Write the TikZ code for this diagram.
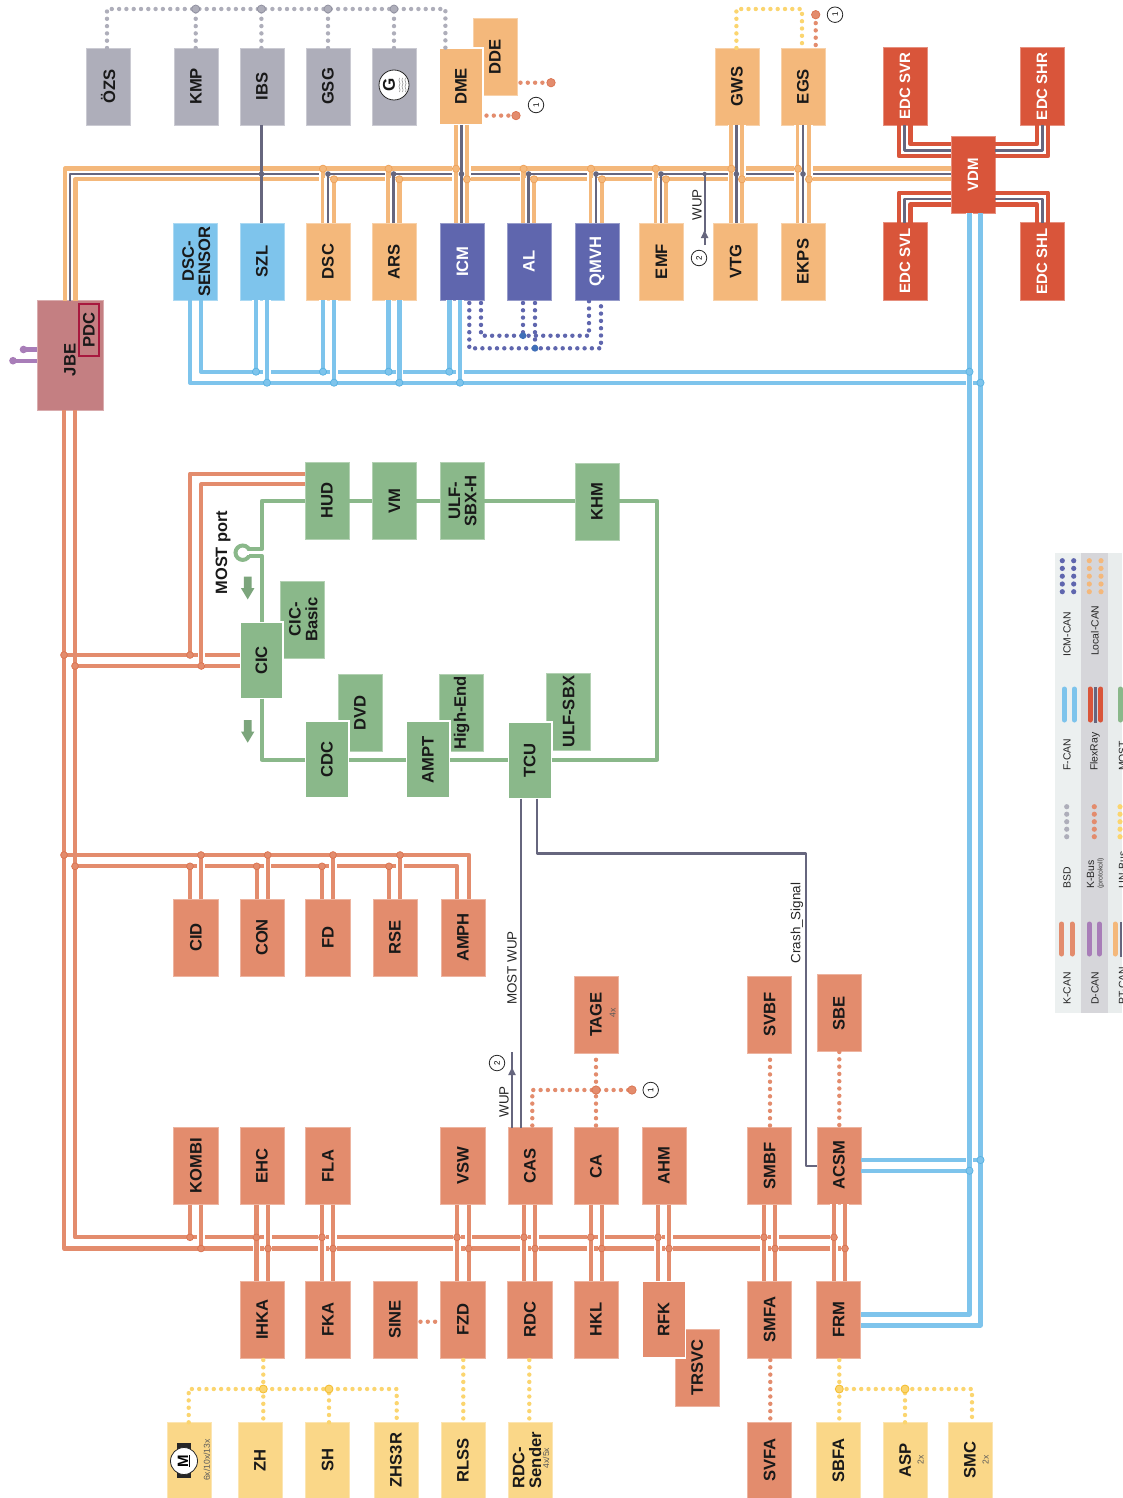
\documentclass[tikz,border=0pt]{standalone}
\usepackage{fontspec}
\usepackage{graphicx}
\setmainfont{Liberation Sans}
\usetikzlibrary{arrows.meta}
\definecolor{cK}{HTML}{E38C6D}
\definecolor{cKd}{HTML}{DB7350}
\definecolor{cP}{HTML}{F4B87B}
\definecolor{cPd}{HTML}{EFA25A}
\definecolor{cG}{HTML}{66667E}
\definecolor{cB}{HTML}{7EC4EC}
\definecolor{cBd}{HTML}{58B2E2}
\definecolor{cI}{HTML}{5F66AE}
\definecolor{cId}{HTML}{3F6FB8}
\definecolor{cR}{HTML}{D9553A}
\definecolor{cM}{HTML}{8AB88A}
\definecolor{cY}{HTML}{FAD788}
\definecolor{cYl}{HTML}{FBD56F}
\definecolor{cYd}{HTML}{F4BC2C}
\definecolor{cS}{HTML}{AEAEBA}
\definecolor{cSd}{HTML}{8E8E9E}
\definecolor{cJ}{HTML}{C47F82}
\definecolor{cD}{HTML}{A87DB8}
\definecolor{cPDC}{HTML}{A8183E}
\tikzset{
  casing/.style={draw=white,line width=7.4},
  casingend/.style={draw=white,line width=7.4,shorten >=3.6},
  Pline/.style={draw=cP,line width=4.4},
  Gline/.style={draw=cG,line width=2.6},
  Kline/.style={draw=cK,line width=4.2,line join=round},
  Bline/.style={draw=cB,line width=4.4,line join=round},
  Rline/.style={draw=cR,line width=4.2},
  Mline/.style={draw=cM,line width=4},
  wire/.style={draw=cG,line width=2.2},
  Pdot/.style={fill=cP,draw=cPd,line width=.7,radius=3.6},
  Gdot/.style={fill=cG,radius=2.8},
  Kdot/.style={fill=cK,draw=cKd,line width=.7,radius=3.4},
  Bdot/.style={fill=cB,draw=cBd,line width=.7,radius=3.6},
  Idot/.style={fill=cId,radius=3.4},
  Sdot/.style={fill=cS,draw=cSd,line width=.7,radius=4},
  Ydot/.style={fill=cYl,draw=cYd,line width=.8,radius=4},
  Kdotb/.style={fill=cK,draw=cKd,line width=.7,radius=4.2},
  dots/.style={line width=4.4,dash pattern=on 0pt off 7.3pt,line cap=round},
  Idots/.style={dots,draw=cI},
  Sdots/.style={dots,draw=cS},
  Kdots/.style={dots,draw=cK},
  Ydots/.style={dots,draw=cYl},
  numc/.style={circle,draw=black!85,fill=white,line width=.8,minimum size=15.5,inner sep=0,font=\fontsize{8}{8}\selectfont},
  lab/.style={rotate=90,inner sep=0,font=\fontsize{13.4}{14}\selectfont,text=black!85},
  small/.style={rotate=90,inner sep=0,font=\fontsize{8.6}{9}\selectfont,text=black!65},
  leg/.style={rotate=90,anchor=west,inner sep=0,font=\fontsize{10.4}{11}\selectfont,text=black!85},
  legstub/.style={line width=5,line cap=round},
  wuptip/.style={wire,-{Stealth[length=8,width=7,inset=0]}},
}
\newcommand\bx[8][black!90]{\node[draw=#7!65!white,fill=#7,text=#1,inner sep=0,outer sep=0,line width=.8,
  minimum width={#5-#3},minimum height={#6-#4},font=\bfseries\fontsize{16.6}{15.5}\selectfont]
  (#2) at ({(#3+#5)/2},{(#4+#6)/2}) {\rotatebox{90}{#8}};}
\newcommand\twol[2]{\raisebox{-7.15pt}[10pt][10pt]{\begin{tabular}{@{}c@{}}#1\\#2\end{tabular}}}
\newcommand\outl[1]{\draw[white,line width=1.6] (#1.south west) rectangle (#1.north east);}
\newcommand\midtxt[1]{\fontsize{15}{15}\selectfont #1}
\newcommand\tapline[4]{\draw[casingend] (#2 -| #3,0) -- (#3,0 |- #4); \draw[#1line] (#2 -| #3,0) -- (#3,0 |- #4);}
\newcommand\tapdot[4]{\path[#1dot] (#3,0 |- #4) circle;}
\newcommand\thruline[5]{\draw[casing] (#2 -| #4,0) -- (#3 -| #4,0); \draw[#1line] (#2 -| #4,0) -- (#3 -| #4,0);}
\newcommand\thrudot[5]{\path[#1dot] (#4,0 |- #5) circle;}
\newcommand\tap{}
\newcommand\thru{}
\newcommand\cased[2]{\draw[casing] #2; \draw[#1] #2;}
\newcommand\toptaps{%
  \tap{P}{DSC.north}{323}{ptA}\tap{G}{DSC.north}{328}{ptG}\tap{P}{DSC.north}{334}{ptB}
  \tap{P}{ARS.north}{388.6}{ptA}\tap{G}{ARS.north}{393.6}{ptG}\tap{P}{ARS.north}{399.3}{ptB}
  \thru{P}{DME.south}{ICM.north}{456}{ptA}\thru{G}{DME.south}{ICM.north}{461.5}{ptG}\thru{P}{DME.south}{ICM.north}{467}{ptB}
  \tap{P}{AL.north}{523.6}{ptA}\tap{G}{AL.north}{528.6}{ptG}\tap{P}{AL.north}{534}{ptB}
  \tap{P}{QMVH.north}{591}{ptA}\tap{G}{QMVH.north}{596}{ptG}\tap{P}{QMVH.north}{602}{ptB}
  \tap{P}{EMF.north}{655.7}{ptA}\tap{G}{EMF.north}{661}{ptG}\tap{P}{EMF.north}{666}{ptB}
  \thru{P}{GWS.south}{VTG.north}{731.4}{ptA}\thru{G}{GWS.south}{VTG.north}{736.4}{ptG}\thru{P}{GWS.south}{VTG.north}{742}{ptB}
  \thru{P}{EGS.south}{EKPS.north}{798}{ptA}\thru{G}{EGS.south}{EKPS.north}{803}{ptG}\thru{P}{EGS.south}{EKPS.north}{809}{ptB}
}
\newcommand\bluetaps{%
  \tap{B}{SZL.south}{256}{fa}\tap{B}{SZL.south}{267}{fb}
  \tap{B}{DSC.south}{323}{fa}\tap{B}{DSC.south}{334}{fb}
  \tap{B}{ARS.south}{388.6}{fa}\tap{B}{ARS.south}{399.3}{fb}
  \tap{B}{ICM.south}{449.3}{fa}\tap{B}{ICM.south}{460}{fb}
}
\newcommand\ktaps{%
  \tap{K}{CID.north}{190}{ml}\tap{K}{CID.north}{201}{mu}
  \tap{K}{CON.north}{256.7}{ml}\tap{K}{CON.north}{267.7}{mu}
  \tap{K}{FD.north}{322}{ml}\tap{K}{FD.north}{333}{mu}
  \tap{K}{RSE.north}{389}{ml}\tap{K}{RSE.north}{400}{mu}
  \tap{K}{KOMBI.south}{190}{ku}\tap{K}{KOMBI.south}{201}{kl}
  \thru{K}{EHC.south}{IHKA.north}{256.4}{ku}\thru{K}{EHC.south}{IHKA.north}{268}{kl}
  \thru{K}{FLA.south}{FKA.north}{322}{ku}\thru{K}{FLA.south}{FKA.north}{333}{kl}
  \thru{K}{VSW.south}{FZD.north}{457}{ku}\thru{K}{VSW.south}{FZD.north}{468.6}{kl}
  \thru{K}{CAS.south}{RDC.north}{524}{ku}\thru{K}{CAS.south}{RDC.north}{535}{kl}
  \thru{K}{CA.south}{HKL.north}{590.7}{ku}\thru{K}{CA.south}{HKL.north}{601.7}{kl}
  \thru{K}{AHM.south}{RFK.north}{658}{ku}\thru{K}{AHM.south}{RFK.north}{669}{kl}
  \thru{K}{SMBF.south}{SMFA.north}{764}{ku}\thru{K}{SMBF.south}{SMFA.north}{775}{kl}
  \thru{K}{ACSM.south}{FRM.north}{834}{ku}\thru{K}{ACSM.south}{FRM.north}{845}{kl}
}
\begin{document}
\begin{tikzpicture}[x=1pt,y=-1pt]
\useasboundingbox (0,0) rectangle (1122,1498);
% legend background
\fill[fill=white] (0,0) rectangle (1122,1498);
\fill[fill={rgb,255:red,236;green,240;blue,240}] (1054.7,552.7) rectangle (1081,1013);
\fill[fill={rgb,255:red,214;green,214;blue,218}] (1081,552.7) rectangle (1108,1013);
\fill[fill={rgb,255:red,233;green,237;blue,237}] (1108,552.7) rectangle (1122,1013);
% bus reference levels
\coordinate (ptA) at (0,168.7); \coordinate (ptG) at (0,174); \coordinate (ptB) at (0,179.3);
\coordinate (fa) at (0,371.7); \coordinate (fb) at (0,382.7);
\coordinate (ia) at (0,335.7); \coordinate (ib) at (0,348.3);
\coordinate (cu) at (0,655); \coordinate (cl) at (0,666);
\coordinate (hu) at (0,473.7); \coordinate (hl) at (0,484.3);
\coordinate (mu) at (0,855); \coordinate (ml) at (0,866.3);
\coordinate (ku) at (0,1237.3); \coordinate (kl) at (0,1248.5);
\coordinate (mt) at (0,500.7); \coordinate (mb) at (0,759.7);
\coordinate (bt) at (0,9); \coordinate (yb) at (0,1389);
% boxes: top
\bx{OZS}{86}{48}{130}{125}{cS}{ÖZS}
\bx{KMP}{174}{48}{218}{125}{cS}{KMP}
\bx{IBS}{240}{48}{284}{125}{cS}{IBS}
\bx{GSG}{306}{48}{350}{125}{cS}{GSG}
\bx{GEN}{372}{48}{416}{125}{cS}{}
\bx{DDE}{473}{18}{517}{95}{cP}{DDE}
\bx{DME}{439}{48}{483}{125}{cP}{DME}\outl{DME}
\bx{GWS}{715}{48}{759}{125}{cP}{GWS}
\bx{EGS}{781}{48}{825}{125}{cP}{EGS}
\bx[white]{SVR}{883}{47.5}{927}{125}{cR}{\midtxt{EDC SVR}}
\bx[white]{SHR}{1020}{47.5}{1064}{125}{cR}{\midtxt{EDC SHR}}
\bx[white]{VDM}{951}{136}{995}{213}{cR}{\midtxt{VDM}}
\bx[white]{SVL}{883}{222.5}{927}{300}{cR}{\midtxt{EDC SVL}}
\bx[white]{SHL}{1020}{222.5}{1064}{300}{cR}{\midtxt{EDC SHL}}
\bx{DSCS}{173.6}{223}{217.6}{300}{cB}{\twol{DSC-}{SENSOR}}
\bx{SZL}{240}{223}{284}{300}{cB}{SZL}
\bx{DSC}{306}{223}{350}{300}{cP}{DSC}
\bx{ARS}{372}{223}{416}{300}{cP}{ARS}
\bx[white]{ICM}{440.3}{223}{484.3}{300}{cI}{ICM}
\bx[white]{AL}{507}{223}{551}{300}{cI}{AL}
\bx[white]{QMVH}{575}{223}{619}{300}{cI}{QMVH}
\bx{EMF}{639.4}{223}{683.4}{300}{cP}{EMF}
\bx{VTG}{713.6}{223}{757.6}{300}{cP}{VTG}
\bx{EKPS}{781}{223}{825}{300}{cP}{EKPS}
% JBE
\bx{JBE}{37}{300.7}{103}{410}{cJ}{}
\node[font=\bfseries\fontsize{16.6}{15}\selectfont,text=black!90,inner sep=0] (JBEt) at (70,360) {\rotatebox{90}{JBE}};
\node[draw=cPDC,line width=1.2,minimum width=20,minimum height=52,inner sep=0,font=\bfseries\fontsize{16.6}{15}\selectfont,text=black!90] (PDC) at (89,330) {\rotatebox{90}{PDC}};
% MOST boxes
\bx{HUD}{305}{462.7}{349}{539}{cM}{HUD}
\bx{VM}{372.3}{462.7}{416.3}{539}{cM}{VM}
\bx{ULFH}{440}{462.7}{484}{539}{cM}{\twol{ULF-}{SBX-H}}
\bx{KHM}{575}{463.7}{619}{540}{cM}{KHM}
\bx{CICB}{280.7}{581}{324.7}{658}{cM}{\twol{CIC-}{Basic}}
\bx{CIC}{239.7}{622}{283}{698.7}{cM}{CIC}\outl{CIC}
\bx{DVD}{338}{674.7}{382}{751}{cM}{DVD}
\bx{CDC}{305}{721}{349}{797.7}{cM}{CDC}\outl{CDC}
\bx{HE}{439.7}{674.7}{483.7}{751}{cM}{High-End}
\bx{AMPT}{406}{721}{450}{798}{cM}{AMPT}\outl{AMPT}
\bx{USBX}{546.7}{673.7}{590.7}{750}{cM}{ULF-SBX}
\bx{TCU}{507.7}{722}{551.7}{798.7}{cM}{TCU}\outl{TCU}
% K-CAN boxes
\bx{CID}{173.7}{899}{218}{976}{cK}{CID}
\bx{CON}{240}{899}{284}{976}{cK}{CON}
\bx{FD}{305.7}{899}{350}{976}{cK}{FD}
\bx{RSE}{373}{899}{417}{976}{cK}{RSE}
\bx{AMPH}{441}{899}{485}{976}{cK}{AMPH}
\bx{TAGE}{574}{976}{618}{1053}{cK}{TAGE}
\bx{SVBF}{747.7}{976}{791.7}{1053}{cK}{SVBF}
\bx{SBE}{817}{974.7}{861}{1051.7}{cK}{SBE}
\bx{KOMBI}{173.7}{1127.5}{218}{1204.5}{cK}{KOMBI}
\bx{EHC}{240}{1127.5}{284}{1204.5}{cK}{EHC}
\bx{FLA}{305.7}{1127.5}{350}{1204.5}{cK}{FLA}
\bx{VSW}{440.7}{1127.5}{485}{1204.5}{cK}{VSW}
\bx{CAS}{508}{1127.5}{552}{1204.5}{cK}{CAS}
\bx{CA}{574}{1127.5}{618}{1204.5}{cK}{CA}
\bx{AHM}{642}{1127.5}{686}{1204.5}{cK}{AHM}
\bx{SMBF}{747.7}{1127.5}{791.7}{1204.5}{cK}{SMBF}
\bx{ACSM}{817}{1127}{861}{1204}{cK}{ACSM}
\bx{IHKA}{240}{1281}{284.3}{1358}{cK}{IHKA}
\bx{FKA}{305.7}{1281}{350}{1358}{cK}{FKA}
\bx{SINE}{373}{1281}{417}{1358}{cK}{SINE}
\bx{FZD}{440.7}{1281}{485}{1358}{cK}{FZD}
\bx{RDC}{507.7}{1281}{552}{1358}{cK}{RDC}
\bx{HKL}{574}{1281}{618}{1358}{cK}{HKL}
\bx{TRSVC}{675}{1329}{719.3}{1406}{cK}{TRSVC}
\bx{RFK}{641.7}{1281}{685.5}{1358}{cK}{RFK}\outl{RFK}
\bx{SMFA}{747.7}{1281}{791.7}{1358}{cK}{SMFA}
\bx{FRM}{816.7}{1281}{860.7}{1358}{cK}{FRM}
% bottom row
\bx{MOT}{167.3}{1422.3}{211.7}{1498}{cY}{}
\bx{ZH}{238}{1422.3}{282}{1498}{cY}{ZH}
\bx{SH}{305.7}{1422.3}{349.7}{1498}{cY}{SH}
\bx{ZHS}{374}{1422.3}{418}{1498}{cY}{ZHS3R}
\bx{RLSS}{441}{1422.3}{485}{1498}{cY}{RLSS}
\bx{RDCS}{508}{1422.3}{552}{1498}{cY}{\raisebox{-3.6pt}[10pt][10pt]{\begin{tabular}{@{}l@{}}RDC-\\Sender\end{tabular}}}
\bx{SVFA}{747.7}{1422.3}{791.7}{1498}{cK}{SVFA}
\bx{SBFA}{816.3}{1422.3}{860.3}{1498}{cY}{SBFA}
\bx{ASP}{883.3}{1422.3}{927}{1498}{cY}{ASP}
\bx{SMC}{948}{1422.3}{992}{1498}{cY}{SMC}
% small texts
\node[small] (t1) at (206.7,1460) {6x/10x/13x};
\node[small] (t2) at (546,1458) {4x/5x};
\node[small] (t3) at (920.7,1460) {2x};
\node[small] (t4) at (985.7,1460) {2x};
\node[small] (t5) at (612.7,1013) {4x};
% motor icon
\fill[black!85] (177,1443) rectangle (191,1478);
\node[circle,draw=black!85,fill=white,line width=.8,minimum size=27,inner sep=0,font=\bfseries\fontsize{15}{15}\selectfont] (MI) at (184,1461) {\rotatebox{90}{\underline{M}}};
% generator icon
\node[circle,draw=black!85,fill=white,line width=.8,minimum size=30,inner sep=0] (GI) at (394,85) {};
\node[font=\bfseries\fontsize{17}{17}\selectfont,inner sep=0,text=black!90] (GL) at (389,85) {\rotatebox{90}{G}};
\foreach \q in {399.5,402.5,405.5}{
  \draw[black!50,line width=.5] (\q,92) .. controls (\q+2,89) and (\q-2,87) .. (\q,85) .. controls (\q+2,83) and (\q-2,81) .. (\q,78);
}
% PT-CAN trunk
\draw[Pline,line join=round] (JBE.north -| 65,0) -- (65,0 |- ptA) -- (VDM.west |- ptA);
\draw[Gline,line join=round] (JBE.north -| 70,0) -- (70,0 |- ptG) -- (VDM.west |- ptG);
\draw[Pline,line join=round] (JBE.north -| 75.4,0) -- (75.4,0 |- ptB) -- (VDM.west |- ptB);
\draw[wire] (IBS.south -| 261.5,0) -- (SZL.north -| 261.5,0);
\let\tap\tapline \let\thru\thruline \toptaps
\let\tap\tapdot \let\thru\thrudot \toptaps
\path[Gdot] (261.5,0 |- ptG) circle;
% WUP 2
\coordinate (wupA) at (704.6,245);
\draw[wuptip] (wupA) -- (704.6,230);
\draw[wire] (704.6,232) -- (704.6,0 |- ptG);
\path[Gdot] (704.6,0 |- ptG) circle[radius=2.2];
\node[lab] (wupT) at (697,205) {WUP};
\node[numc] (n2a) at (699,258) {\rotatebox{90}{2}};
% FlexRay
\draw[Rline,line join=round] (SVR.south -| 899,0) -- (899,156) -- (VDM.west |- 0,156);
\draw[Gline,line join=round] (SVR.south -| 904.5,0) -- (904.5,150.5) -- (VDM.west |- 0,150.5);
\draw[Rline,line join=round] (SVR.south -| 910.5,0) -- (910.5,144.3) -- (VDM.west |- 0,144.3);
\draw[Rline,line join=round] (SHR.south -| 1048,0) -- (1048,156) -- (VDM.east |- 0,156);
\draw[Gline,line join=round] (SHR.south -| 1042.3,0) -- (1042.3,150.5) -- (VDM.east |- 0,150.5);
\draw[Rline,line join=round] (SHR.south -| 1036.8,0) -- (1036.8,144.3) -- (VDM.east |- 0,144.3);
\draw[Rline,line join=round] (SVL.north -| 899,0) -- (899,192.7) -- (VDM.west |- 0,192.7);
\draw[Gline,line join=round] (SVL.north -| 904.5,0) -- (904.5,199) -- (VDM.west |- 0,199);
\draw[Rline,line join=round] (SVL.north -| 910.5,0) -- (910.5,204.5) -- (VDM.west |- 0,204.5);
\draw[Rline,line join=round] (SHL.north -| 1048,0) -- (1048,192.7) -- (VDM.east |- 0,192.7);
\draw[Gline,line join=round] (SHL.north -| 1042.3,0) -- (1042.3,199) -- (VDM.east |- 0,199);
\draw[Rline,line join=round] (SHL.north -| 1036.8,0) -- (1036.8,204.5) -- (VDM.east |- 0,204.5);
% F-CAN
\draw[Bline] (DSCS.south -| 201,0) -- (201,0 |- fa) -- (969.5,0 |- fa);
\draw[Bline] (DSCS.south -| 190,0) -- (190,0 |- fb) -- (980.5,0 |- fb);
\let\tap\tapline \let\thru\thruline \bluetaps
\cased{Bline}{(VDM.south -| 969.5,0) -- (969.5,1314.3) -- (FRM.east |- 0,1314.3)}
\draw[Bline] (VDM.south -| 980.5,0) -- (980.5,1325.3) -- (FRM.east |- 0,1325.3);
\draw[Bline] (ACSM.east |- 0,1160) -- (980.5,1160);
\cased{Bline}{(969.5,1140) -- (969.5,1185)}
\draw[Bline] (ACSM.east |- 0,1170.7) -- (969.5,1170.7);
\let\tap\tapdot \let\thru\thrudot \bluetaps
\path[Bdot] (969.5,0 |- fa) circle; \path[Bdot] (980.5,0 |- fb) circle;
\path[Bdot] (980.5,1160) circle; \path[Bdot] (969.5,1170.7) circle;
% ICM-CAN dotted
\draw[Idots] (ICM.south -| 481,0) ++(0,3) -- (481,0 |- ia) -- (589,0 |- ia) -- (QMVH.south -| 589,0);
\draw[Idots] (ICM.south -| 469.3,0) ++(0,3) -- (469.3,0 |- ib) -- (601,0 |- ib) -- (QMVH.south -| 601,0);
\draw[Idots] (AL.south -| 523,0) ++(0,3) -- (523,0 |- ia);
\draw[Idots] (AL.south -| 535,0) ++(0,3) -- (535,0 |- ib);
\path[Idot] (523,0 |- ia) circle; \path[Idot] (535,0 |- ib) circle;
% BSD dotted
\draw[Sdots] (OZS.north -| 107,0) -- (107,0 |- bt) -- (445.4,0 |- bt) -- (DME.north -| 445.4,0);
\foreach \q/\n in {195.7/KMP,261.4/IBS,328/GSG,394/GEN}{
  \draw[Sdots] (\n.north -| \q,0) -- (\q,0 |- bt);
  \path[Sdot] (\q,0 |- bt) circle;
}
% K-bus / LIN at the top
\coordinate (e1) at (551,82.7); \coordinate (e2) at (516,115.6); \coordinate (e3) at (815.7,14.7);
\draw[Kdots] (DDE.east |- e1) ++(3.5,0) -- (e1); \path[Kdotb] (e1) circle;
\draw[Kdots] (DME.east |- e2) ++(3.5,0) -- (e2); \path[Kdotb] (e2) circle;
\draw[Kdots] (EGS.north -| e3) ++(0,-3) -- (e3); \path[Kdotb] (e3) circle;
\node[numc] (n1a) at (536,105) {\rotatebox{90}{1}};
\node[numc] (n1b) at (835,14.7) {\rotatebox{90}{1}};
\draw[Ydots] (GWS.north -| 736.4,0) -- (736.4,0 |- bt) -- (802,0 |- bt) -- (EGS.north -| 802,0);
% JBE D-CAN
\coordinate (d1) at (23.5,349.5); \coordinate (d2) at (13,360.7);
\draw[draw=cD,line width=4.2] (JBE.west |- d1) -- (d1);
\draw[draw=cD,line width=4.2] (JBE.west |- d2) -- (d2);
\fill[cD] (d1) circle[radius=3.8]; \fill[cD] (d2) circle[radius=3.8];
% K-CAN trunks
\draw[Kline] (JBE.south -| 64,0) -- (64,0 |- kl) -- (845,0 |- kl);
\draw[Kline] (JBE.south -| 75,0) -- (75,0 |- ku) -- (834,0 |- ku);
\draw[Kline] (64,0 |- cu) -- (CIC.west |- cu);
\draw[Kline] (75,0 |- cl) -- (CIC.west |- cl);
\draw[Kline] (64,0 |- mu) -- (469,0 |- mu) -- (AMPH.north -| 469,0);
\draw[Kline] (75,0 |- ml) -- (457.3,0 |- ml) -- (AMPH.north -| 457.3,0);
\draw[Kline] (HUD.west |- hu) -- (190,0 |- hu) -- (190,0 |- cu);
\cased{Kline}{(HUD.west |- hl) -- (201.3,0 |- hl) -- (201.3,0 |- cl)}
\path[Kdot] (190,0 |- cu) circle; \path[Kdot] (201.3,0 |- cl) circle;
\path[Kdot] (64,0 |- cu) circle; \path[Kdot] (75,0 |- cl) circle;
\path[Kdot] (64,0 |- mu) circle; \path[Kdot] (75,0 |- ml) circle;
\let\tap\tapline \let\thru\thruline \ktaps
\let\tap\tapdot \let\thru\thrudot \ktaps
% MOST ring
\draw[Mline,line join=round] (CIC.south -| 262,0) -- (262,0 |- mb) -- (CDC.west |- mb);
\draw[Mline] (CDC.east |- mb) -- (AMPT.west |- mb);
\draw[Mline] (AMPT.east |- mb) -- (TCU.west |- mb);
\draw[Mline,line join=round] (TCU.east |- mb) -- (657,0 |- mb) -- (657,0 |- mt) -- (KHM.east |- mt);
\draw[Mline] (KHM.west |- mt) -- (ULFH.east |- mt);
\draw[Mline] (ULFH.west |- mt) -- (VM.east |- mt);
\draw[Mline] (VM.west |- mt) -- (HUD.east |- mt);
\coordinate (port) at (242.7,552.7);
\draw[Mline] (port) circle[radius=7.2];
\fill[white] (246,550.7) rectangle (252,554.7);
\draw[Mline,line join=round] (HUD.west |- mt) -- (262,0 |- mt) -- (262,549) -- (248.5,549);
\draw[Mline,line join=round] (CIC.north -| 262,0) -- (262,556) -- (248.5,556);
\node[rotate=90,inner sep=0,font=\bfseries\fontsize{16.4}{16}\selectfont,text=black!90] (portT) at (223,552.5) {MOST port};
\foreach \q in {576.7,720}{
  \fill[cM!90!black] (243.9,\q) -- (251.6,\q) -- (251.6,\q+11.5) -- (254.4,\q+11.5) -- (247.7,\q+22.7) -- (241,\q+11.5) -- (243.9,\q+11.5) -- cycle;
}
% signal wires
\draw[wire] (TCU.south -| 520.7,0) -- (CAS.north -| 520.7,0);
\draw[wire,line join=round] (TCU.south -| 537,0) -- (537,853.5) -- (806,853.5) -- (806,1165.7) -- (ACSM.west |- 0,1165.7);
\node[lab] (mwT) at (512,968) {MOST WUP};
\node[lab] (csT) at (797,923) {Crash\_Signal};
\coordinate (wupB) at (512,1052);
\draw[wuptip] (CAS.north -| 512,0) -- (512,1067);
\draw[wire] (512,1069) -- (wupB);
\node[lab] (wup2T) at (504,1102) {WUP};
\node[numc] (n2b) at (497,1063) {\rotatebox{90}{2}};
% K-bus dotted, lower
\coordinate (kt) at (632,1090);
\draw[Kdots] (CAS.north -| 532.3,0) ++(0,-2) -- (532.3,0 |- kt) -- (kt);
\draw[Kdots] (CA.north -| 596,0) ++(0,-2) -- (TAGE.south -| 596,0);
\path[Kdotb] (596,0 |- kt) circle; \path[Kdotb] (kt) circle;
\node[numc] (n1c) at (650.7,1090) {\rotatebox{90}{1}};
\draw[Kdots] (SMBF.north -| 770,0) ++(0,-2) -- (SVBF.south -| 770,0);
\draw[Kdots] (ACSM.north -| 839.3,0) ++(0,-2) -- (SBE.south -| 839.3,0);
\draw[Kdots] (SINE.east |- 0,1321.7) ++(3.5,0) -- (FZD.west |- 0,1321.7);
\draw[Kdots] (SMFA.south -| 770.3,0) ++(0,2) -- (SVFA.north -| 770.3,0);
% LIN dotted, lower
\draw[Ydots] (IHKA.south -| 263.3,0) ++(0,2) -- (ZH.north -| 263.3,0);
\draw[Ydots] (MOT.north -| 188.7,0) -- (188.7,0 |- yb) -- (396.7,0 |- yb) -- (ZHS.north -| 396.7,0);
\draw[Ydots] (SH.north -| 329,0) -- (329,0 |- yb);
\path[Ydot] (263.3,0 |- yb) circle; \path[Ydot] (329,0 |- yb) circle;
\draw[Ydots] (FZD.south -| 463.3,0) ++(0,2) -- (RLSS.north -| 463.3,0);
\draw[Ydots] (RDC.south -| 529.3,0) ++(0,2) -- (RDCS.north -| 529.3,0);
\draw[Ydots] (FRM.south -| 839.3,0) ++(0,2) -- (SBFA.north -| 839.3,0);
\draw[Ydots] (839.3,0 |- yb) -- (972,0 |- yb) -- (SMC.north -| 972,0);
\draw[Ydots] (ASP.north -| 905,0) -- (905,0 |- yb);
\path[Ydot] (839.3,0 |- yb) circle; \path[Ydot] (905,0 |- yb) circle;
% legend
\node[leg] (lg1) at (1067,1005) {K-CAN};
\node[leg] (lg2) at (1067,889) {BSD};
\node[leg] (lg3) at (1067,771) {F-CAN};
\node[leg] (lg4) at (1067,656.7) {ICM-CAN};
\node[leg] (lg5) at (1095,1005) {D-CAN};
\node[leg] (lg6) at (1090.5,889) {K-Bus};
\node[rotate=90,anchor=west,inner sep=0,font=\fontsize{7}{7}\selectfont,text=black!75] (lg7) at (1100.7,889) {(protokoll)};
\node[leg] (lg8) at (1095,771) {FlexRay};
\node[leg] (lg9) at (1095,656) {Local-CAN};
\node[leg] (lg10) at (1122.5,1005) {PT-CAN};
\node[leg] (lg11) at (1122.5,889) {LIN-Bus};
\node[leg] (lg12) at (1122.5,771) {MOST};
\foreach \q in {1061.7,1072}{\draw[legstub,cK] (\q,924) -- (\q,954);}
\foreach \q in {1089.3,1099.3}{\draw[legstub,cD] (\q,924) -- (\q,954);}
\draw[legstub,cP] (1115,924) -- (1115,954);
\draw[cG,line width=2.6] (1121,922) -- (1121,956.5);
\foreach \q in {1064.3,1074.3}{\draw[legstub,cB] (\q,689) -- (\q,720);}
\foreach \q in {1090,1100.7}{\draw[legstub,cR] (\q,689) -- (\q,720);}
\draw[cG,line width=2.6] (1095.3,687) -- (1095.3,722.5);
\draw[legstub,cM] (1120.5,689) -- (1120.5,720);
\foreach \q in {806.7,814.2,821.7,829.2,836.7}{
  \fill[cS] (1066.7,\q) circle[radius=2.6];
  \fill[cK] (1094.3,\q) circle[radius=2.6];
  \fill[cYl] (1120,\q) circle[radius=2.6];
}
\foreach \q in {560.7,568.4,576.2,584,591.7}{
  \fill[cI] (1062.3,\q) circle[radius=2.6];
  \fill[cI] (1073.7,\q) circle[radius=2.6];
  \fill[cP] (1089.3,\q) circle[radius=2.6];
  \fill[cP] (1101,\q) circle[radius=2.6];
}
\end{tikzpicture}
\end{document}
